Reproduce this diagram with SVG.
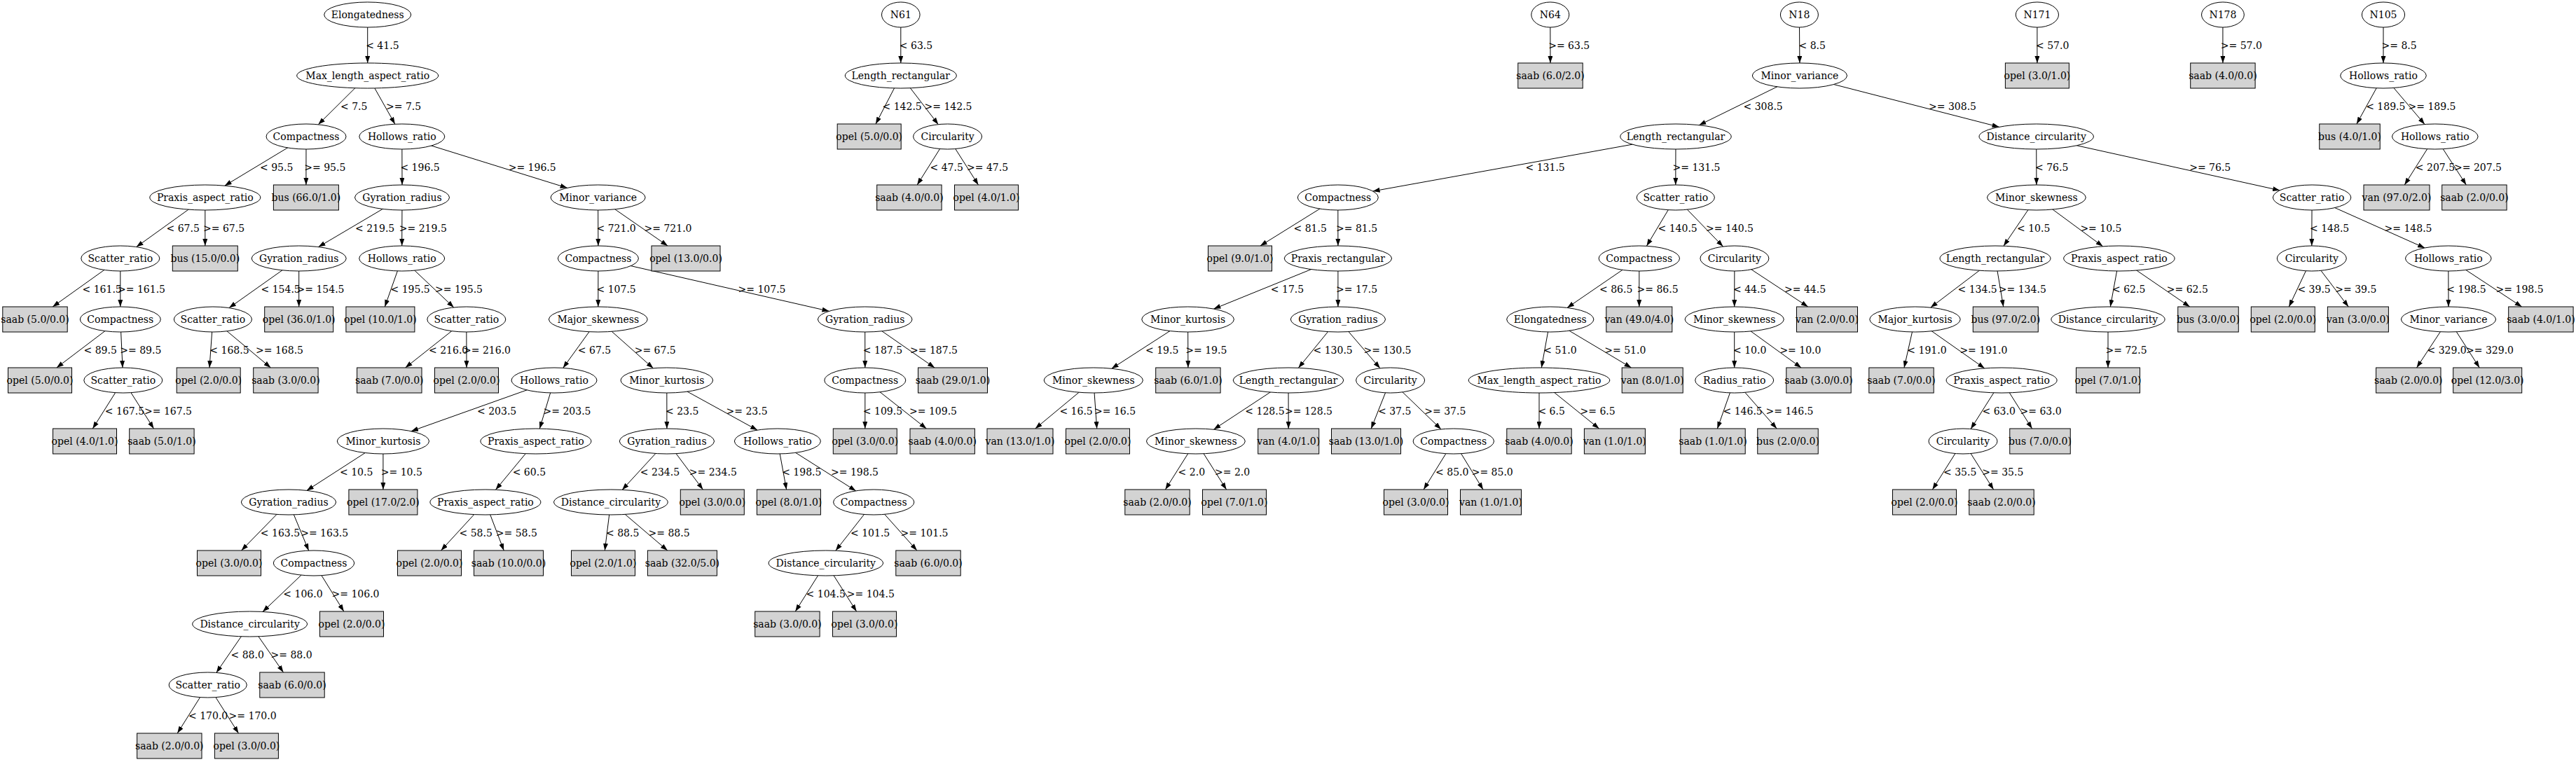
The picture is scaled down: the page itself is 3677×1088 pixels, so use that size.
<svg xmlns="http://www.w3.org/2000/svg" width="3677" height="1088" viewBox="0 0 3677 1088">
<style>
text{font-family:"DejaVu Serif","Liberation Serif",serif;font-size:14px;fill:#000}
.n ellipse{fill:#fff;stroke:#000;stroke-width:1}
.l rect{fill:#d3d3d3;stroke:#000;stroke-width:1}
.n text,.l text{text-anchor:middle}
#lines line{stroke:#000;stroke-width:1;fill:none;marker-end:url(#ah)}
#labels text{text-anchor:start}
</style>
<defs>
<marker id="ah" viewBox="0 0 10 7" refX="10" refY="3.5" markerWidth="10" markerHeight="7" markerUnits="userSpaceOnUse" orient="auto"><path d="M0,0L10,3.5L0,7z" fill="#000"/></marker>
</defs>
<rect width="3677" height="1088" fill="#fff"/>
<g id="connectors">
<g id="lines">
<line x1="524.7" y1="21" x2="524.7" y2="90"/>
<line x1="524.7" y1="108" x2="454.3" y2="177.8"/>
<line x1="524.7" y1="108" x2="563.8" y2="177.2"/>
<line x1="437" y1="195" x2="320.7" y2="265.2"/>
<line x1="437" y1="195" x2="436.9" y2="264"/>
<line x1="573.8" y1="195" x2="574" y2="264"/>
<line x1="573.8" y1="195" x2="809.7" y2="268.3"/>
<line x1="292.8" y1="282" x2="194.7" y2="352.6"/>
<line x1="292.8" y1="282" x2="292.8" y2="351"/>
<line x1="574" y1="282" x2="454.5" y2="352.6"/>
<line x1="574" y1="282" x2="573.7" y2="351"/>
<line x1="853.6" y1="282" x2="853.9" y2="351"/>
<line x1="853.6" y1="282" x2="953.1" y2="351"/>
<line x1="171.8" y1="369" x2="75.2" y2="438"/>
<line x1="171.8" y1="369" x2="171.8" y2="438"/>
<line x1="426.7" y1="369" x2="327" y2="439.6"/>
<line x1="426.7" y1="369" x2="426.7" y2="438"/>
<line x1="573.7" y1="369" x2="549.3" y2="438"/>
<line x1="573.7" y1="369" x2="647.8" y2="439"/>
<line x1="853.9" y1="369" x2="853.8" y2="438"/>
<line x1="853.9" y1="369" x2="1183.5" y2="444.3"/>
<line x1="171.8" y1="456" x2="80.8" y2="525"/>
<line x1="171.8" y1="456" x2="175" y2="525"/>
<line x1="303.9" y1="456" x2="299" y2="525"/>
<line x1="303.9" y1="456" x2="386.4" y2="525"/>
<line x1="665.8" y1="456" x2="578.6" y2="525"/>
<line x1="665.8" y1="456" x2="666" y2="525"/>
<line x1="853.8" y1="456" x2="803.7" y2="525.4"/>
<line x1="853.8" y1="456" x2="932.4" y2="525.8"/>
<line x1="1234.7" y1="456" x2="1234.8" y2="525"/>
<line x1="1234.7" y1="456" x2="1334.1" y2="525"/>
<line x1="175.8" y1="543" x2="132.3" y2="612"/>
<line x1="175.8" y1="543" x2="219.5" y2="612"/>
<line x1="791" y1="543" x2="586.9" y2="615.7"/>
<line x1="791" y1="543" x2="770.3" y2="612"/>
<line x1="951.8" y1="543" x2="951.9" y2="612"/>
<line x1="951.8" y1="543" x2="1081" y2="614.1"/>
<line x1="1234.8" y1="543" x2="1234.8" y2="612"/>
<line x1="1234.8" y1="543" x2="1322.4" y2="612"/>
<line x1="546.9" y1="630" x2="437.8" y2="700.4"/>
<line x1="546.9" y1="630" x2="546.9" y2="699"/>
<line x1="764.9" y1="630" x2="707.5" y2="699.3"/>
<line x1="951.9" y1="630" x2="888.1" y2="699.4"/>
<line x1="951.9" y1="630" x2="1003.4" y2="699"/>
<line x1="1109.9" y1="630" x2="1122.6" y2="699"/>
<line x1="1109.9" y1="630" x2="1221.7" y2="700.9"/>
<line x1="412" y1="717" x2="344.6" y2="786"/>
<line x1="412" y1="717" x2="440.6" y2="786.1"/>
<line x1="692.9" y1="717" x2="629.5" y2="786"/>
<line x1="692.9" y1="717" x2="719.2" y2="786"/>
<line x1="871.9" y1="717" x2="863.3" y2="786"/>
<line x1="871.9" y1="717" x2="952.8" y2="786"/>
<line x1="1247.2" y1="717" x2="1192.8" y2="786.3"/>
<line x1="1247.2" y1="717" x2="1308.9" y2="786"/>
<line x1="448" y1="804" x2="375" y2="873.5"/>
<line x1="448" y1="804" x2="490.8" y2="873"/>
<line x1="1178.8" y1="804" x2="1135.3" y2="873"/>
<line x1="1178.8" y1="804" x2="1222.6" y2="873"/>
<line x1="356.6" y1="891" x2="308.8" y2="960.4"/>
<line x1="356.6" y1="891" x2="404.5" y2="960"/>
<line x1="296.7" y1="978" x2="253.2" y2="1047"/>
<line x1="296.7" y1="978" x2="340.5" y2="1047"/>
<line x1="1285.8" y1="21" x2="1285.8" y2="90"/>
<line x1="1285.8" y1="108" x2="1250" y2="177"/>
<line x1="1285.8" y1="108" x2="1339.3" y2="177.7"/>
<line x1="1352.6" y1="195" x2="1309.2" y2="264"/>
<line x1="1352.6" y1="195" x2="1396.5" y2="264"/>
<line x1="2212.8" y1="21" x2="2213" y2="90"/>
<line x1="2568.4" y1="21" x2="2568.9" y2="90"/>
<line x1="2568.9" y1="108" x2="2425.2" y2="178.7"/>
<line x1="2568.9" y1="108" x2="2853.6" y2="181.3"/>
<line x1="2392" y1="195" x2="1959.6" y2="273"/>
<line x1="2392" y1="195" x2="2391.8" y2="264"/>
<line x1="2906.7" y1="195" x2="2906.9" y2="264"/>
<line x1="2906.7" y1="195" x2="3254.1" y2="271.8"/>
<line x1="1909.8" y1="282" x2="1798.9" y2="351"/>
<line x1="1909.8" y1="282" x2="1909.9" y2="351"/>
<line x1="2391.8" y1="282" x2="2350.4" y2="351.3"/>
<line x1="2391.8" y1="282" x2="2459.5" y2="352"/>
<line x1="2906.9" y1="282" x2="2860" y2="351.2"/>
<line x1="2906.9" y1="282" x2="3001.6" y2="351.8"/>
<line x1="3300.1" y1="282" x2="3299.8" y2="351"/>
<line x1="3300.1" y1="282" x2="3461.1" y2="354"/>
<line x1="1909.9" y1="369" x2="1732.4" y2="441.1"/>
<line x1="1909.9" y1="369" x2="1909.9" y2="438"/>
<line x1="2339.8" y1="369" x2="2237" y2="439.4"/>
<line x1="2339.8" y1="369" x2="2339.8" y2="438"/>
<line x1="2475.9" y1="369" x2="2475.7" y2="438"/>
<line x1="2475.9" y1="369" x2="2580.7" y2="438"/>
<line x1="2848" y1="369" x2="2755.8" y2="439.1"/>
<line x1="2848" y1="369" x2="2859.7" y2="438"/>
<line x1="3024.9" y1="369" x2="3012.3" y2="438"/>
<line x1="3024.9" y1="369" x2="3125.7" y2="438"/>
<line x1="3299.8" y1="369" x2="3267.3" y2="438"/>
<line x1="3299.8" y1="369" x2="3352.2" y2="438"/>
<line x1="3494.8" y1="369" x2="3495" y2="438"/>
<line x1="3494.8" y1="369" x2="3599.6" y2="438"/>
<line x1="1695.6" y1="456" x2="1586.7" y2="526.3"/>
<line x1="1695.6" y1="456" x2="1695.9" y2="525"/>
<line x1="1909.9" y1="456" x2="1853.4" y2="525.3"/>
<line x1="1909.9" y1="456" x2="1969.9" y2="525.8"/>
<line x1="2212.8" y1="456" x2="2200.3" y2="525"/>
<line x1="2212.8" y1="456" x2="2328.5" y2="525"/>
<line x1="2475.7" y1="456" x2="2475.7" y2="525"/>
<line x1="2475.7" y1="456" x2="2571.1" y2="525"/>
<line x1="2733.5" y1="456" x2="2718" y2="525"/>
<line x1="2733.5" y1="456" x2="2832.8" y2="525.9"/>
<line x1="3009" y1="456" x2="3009" y2="525"/>
<line x1="3495" y1="456" x2="3449.6" y2="525"/>
<line x1="3495" y1="456" x2="3539.2" y2="525"/>
<line x1="1560.8" y1="543" x2="1477.7" y2="612"/>
<line x1="1560.8" y1="543" x2="1565.7" y2="612"/>
<line x1="1839" y1="543" x2="1732.4" y2="613.2"/>
<line x1="1839" y1="543" x2="1839.2" y2="612"/>
<line x1="1984.6" y1="543" x2="1957.2" y2="612"/>
<line x1="1984.6" y1="543" x2="2057" y2="612.9"/>
<line x1="2197" y1="543" x2="2197" y2="612"/>
<line x1="2197" y1="543" x2="2282.6" y2="612"/>
<line x1="2475.7" y1="543" x2="2451.4" y2="612"/>
<line x1="2475.7" y1="543" x2="2536.2" y2="612"/>
<line x1="2857.1" y1="543" x2="2813.1" y2="612.5"/>
<line x1="2857.1" y1="543" x2="2900.6" y2="612"/>
<line x1="1706.9" y1="630" x2="1663.4" y2="699"/>
<line x1="1706.9" y1="630" x2="1750.6" y2="699"/>
<line x1="2074.8" y1="630" x2="2032.1" y2="699"/>
<line x1="2074.8" y1="630" x2="2117" y2="699"/>
<line x1="2802" y1="630" x2="2758.4" y2="699"/>
<line x1="2802" y1="630" x2="2845.6" y2="699"/>
<line x1="2907.9" y1="21" x2="2907.9" y2="90"/>
<line x1="3172.9" y1="21" x2="3172.9" y2="90"/>
<line x1="3402" y1="21" x2="3402" y2="90"/>
<line x1="3402" y1="108" x2="3363.9" y2="177"/>
<line x1="3402" y1="108" x2="3461" y2="177.5"/>
<line x1="3475.8" y1="195" x2="3432.3" y2="264"/>
<line x1="3475.8" y1="195" x2="3520.3" y2="264"/>
</g>
<g id="labels">
<text x="522.2" y="69.5">&lt; 41.5</text>
<text x="486" y="156.5">&lt; 7.5</text>
<text x="551" y="156.5">&gt;= 7.5</text>
<text x="371" y="243.5">&lt; 95.5</text>
<text x="434.3" y="243.5">&gt;= 95.5</text>
<text x="571.4" y="243.5">&lt; 196.5</text>
<text x="725.7" y="243.5">&gt;= 196.5</text>
<text x="237.5" y="330.5">&lt; 67.5</text>
<text x="290" y="330.5">&gt;= 67.5</text>
<text x="507" y="330.5">&lt; 219.5</text>
<text x="569.8" y="330.5">&gt;= 219.5</text>
<text x="851.5" y="330.5">&lt; 721.0</text>
<text x="919.5" y="330.5">&gt;= 721.0</text>
<text x="117.5" y="417.5">&lt; 161.5</text>
<text x="168" y="417.5">&gt;= 161.5</text>
<text x="372.5" y="417.5">&lt; 154.5</text>
<text x="423.5" y="417.5">&gt;= 154.5</text>
<text x="557.5" y="417.5">&lt; 195.5</text>
<text x="621" y="417.5">&gt;= 195.5</text>
<text x="851.5" y="417.5">&lt; 107.5</text>
<text x="1053.5" y="417.5">&gt;= 107.5</text>
<text x="119.5" y="504.5">&lt; 89.5</text>
<text x="171.3" y="504.5">&gt;= 89.5</text>
<text x="299.3" y="504.5">&lt; 168.5</text>
<text x="365" y="504.5">&gt;= 168.5</text>
<text x="612" y="504.5">&lt; 216.0</text>
<text x="661" y="504.5">&gt;= 216.0</text>
<text x="824.8" y="504.5">&lt; 67.5</text>
<text x="905.7" y="504.5">&gt;= 67.5</text>
<text x="1231.8" y="504.5">&lt; 187.5</text>
<text x="1299" y="504.5">&gt;= 187.5</text>
<text x="149.8" y="591.5">&lt; 167.5</text>
<text x="206" y="591.5">&gt;= 167.5</text>
<text x="681" y="591.5">&lt; 203.5</text>
<text x="775.5" y="591.5">&gt;= 203.5</text>
<text x="950" y="591.5">&lt; 23.5</text>
<text x="1036.5" y="591.5">&gt;= 23.5</text>
<text x="1231.8" y="591.5">&lt; 109.5</text>
<text x="1298" y="591.5">&gt;= 109.5</text>
<text x="485" y="678.5">&lt; 10.5</text>
<text x="543.8" y="678.5">&gt;= 10.5</text>
<text x="731.7" y="678.5">&lt; 60.5</text>
<text x="913.8" y="678.5">&lt; 234.5</text>
<text x="983.8" y="678.5">&gt;= 234.5</text>
<text x="1116.2" y="678.5">&lt; 198.5</text>
<text x="1186" y="678.5">&gt;= 198.5</text>
<text x="371.8" y="765.5">&lt; 163.5</text>
<text x="429.2" y="765.5">&gt;= 163.5</text>
<text x="655.5" y="765.5">&lt; 58.5</text>
<text x="707.8" y="765.5">&gt;= 58.5</text>
<text x="865" y="765.5">&lt; 88.5</text>
<text x="925.5" y="765.5">&gt;= 88.5</text>
<text x="1214" y="765.5">&lt; 101.5</text>
<text x="1285.5" y="765.5">&gt;= 101.5</text>
<text x="404.3" y="852.5">&lt; 106.0</text>
<text x="473.5" y="852.5">&gt;= 106.0</text>
<text x="1150.6" y="852.5">&lt; 104.5</text>
<text x="1208.8" y="852.5">&gt;= 104.5</text>
<text x="329.5" y="939.5">&lt; 88.0</text>
<text x="386.5" y="939.5">&gt;= 88.0</text>
<text x="269" y="1026.5">&lt; 170.0</text>
<text x="326.6" y="1026.5">&gt;= 170.0</text>
<text x="1283.8" y="69.5">&lt; 63.5</text>
<text x="1259.5" y="156.5">&lt; 142.5</text>
<text x="1319.5" y="156.5">&gt;= 142.5</text>
<text x="1327.5" y="243.5">&lt; 47.5</text>
<text x="1380" y="243.5">&gt;= 47.5</text>
<text x="2210.2" y="69.5">&gt;= 63.5</text>
<text x="2567.5" y="69.5">&lt; 8.5</text>
<text x="2488.5" y="156.5">&lt; 308.5</text>
<text x="2753" y="156.5">&gt;= 308.5</text>
<text x="2177.5" y="243.5">&lt; 131.5</text>
<text x="2387.5" y="243.5">&gt;= 131.5</text>
<text x="2905" y="243.5">&lt; 76.5</text>
<text x="3125.2" y="243.5">&gt;= 76.5</text>
<text x="1846.5" y="330.5">&lt; 81.5</text>
<text x="1907" y="330.5">&gt;= 81.5</text>
<text x="2366.5" y="330.5">&lt; 140.5</text>
<text x="2435" y="330.5">&gt;= 140.5</text>
<text x="2879" y="330.5">&lt; 10.5</text>
<text x="2969.4" y="330.5">&gt;= 10.5</text>
<text x="3297" y="330.5">&lt; 148.5</text>
<text x="3403.5" y="330.5">&gt;= 148.5</text>
<text x="1813.8" y="417.5">&lt; 17.5</text>
<text x="1907" y="417.5">&gt;= 17.5</text>
<text x="2283" y="417.5">&lt; 86.5</text>
<text x="2336.5" y="417.5">&gt;= 86.5</text>
<text x="2474" y="417.5">&lt; 44.5</text>
<text x="2547" y="417.5">&gt;= 44.5</text>
<text x="2794.5" y="417.5">&lt; 134.5</text>
<text x="2852.8" y="417.5">&gt;= 134.5</text>
<text x="3015" y="417.5">&lt; 62.5</text>
<text x="3092.8" y="417.5">&gt;= 62.5</text>
<text x="3279.4" y="417.5">&lt; 39.5</text>
<text x="3333.3" y="417.5">&gt;= 39.5</text>
<text x="3492.3" y="417.5">&lt; 198.5</text>
<text x="3562.6" y="417.5">&gt;= 198.5</text>
<text x="1635" y="504.5">&lt; 19.5</text>
<text x="1692.3" y="504.5">&gt;= 19.5</text>
<text x="1874.5" y="504.5">&lt; 130.5</text>
<text x="1946.5" y="504.5">&gt;= 130.5</text>
<text x="2203.3" y="504.5">&lt; 51.0</text>
<text x="2290.3" y="504.5">&gt;= 51.0</text>
<text x="2474" y="504.5">&lt; 10.0</text>
<text x="2540.4" y="504.5">&gt;= 10.0</text>
<text x="2722.3" y="504.5">&lt; 191.0</text>
<text x="2797.4" y="504.5">&gt;= 191.0</text>
<text x="3005.5" y="504.5">&gt;= 72.5</text>
<text x="3464.5" y="504.5">&lt; 329.0</text>
<text x="3520" y="504.5">&gt;= 329.0</text>
<text x="1512.4" y="591.5">&lt; 16.5</text>
<text x="1562" y="591.5">&gt;= 16.5</text>
<text x="1777.3" y="591.5">&lt; 128.5</text>
<text x="1834" y="591.5">&gt;= 128.5</text>
<text x="1967" y="591.5">&lt; 37.5</text>
<text x="2033.3" y="591.5">&gt;= 37.5</text>
<text x="2195.4" y="591.5">&lt; 6.5</text>
<text x="2255.5" y="591.5">&gt;= 6.5</text>
<text x="2459.5" y="591.5">&lt; 146.5</text>
<text x="2520.5" y="591.5">&gt;= 146.5</text>
<text x="2829.5" y="591.5">&lt; 63.0</text>
<text x="2883.5" y="591.5">&gt;= 63.0</text>
<text x="1681.6" y="678.5">&lt; 2.0</text>
<text x="1734" y="678.5">&gt;= 2.0</text>
<text x="2049.1" y="678.5">&lt; 85.0</text>
<text x="2100.7" y="678.5">&gt;= 85.0</text>
<text x="2774" y="678.5">&lt; 35.5</text>
<text x="2829.3" y="678.5">&gt;= 35.5</text>
<text x="2906" y="69.5">&lt; 57.0</text>
<text x="3169.8" y="69.5">&gt;= 57.0</text>
<text x="3399.5" y="69.5">&gt;= 8.5</text>
<text x="3377.2" y="156.5">&lt; 189.5</text>
<text x="3437.5" y="156.5">&gt;= 189.5</text>
<text x="3447.8" y="243.5">&lt; 207.5</text>
<text x="3503" y="243.5">&gt;= 207.5</text>
</g>
</g>
<g id="nodes">
<g id="n1" class="n"><ellipse cx="524.7" cy="21" rx="62" ry="18"/><text x="524.7" y="26">Elongatedness</text></g>
<g id="n2" class="n"><ellipse cx="524.7" cy="108" rx="101" ry="18"/><text x="524.7" y="113">Max_length_aspect_ratio</text></g>
<g id="n3" class="n"><ellipse cx="437" cy="195" rx="57" ry="18"/><text x="437" y="200">Compactness</text></g>
<g id="n4" class="n"><ellipse cx="573.8" cy="195" rx="61" ry="18"/><text x="573.8" y="200">Hollows_ratio</text></g>
<g id="n5" class="n"><ellipse cx="292.8" cy="282" rx="79" ry="18"/><text x="292.8" y="287">Praxis_aspect_ratio</text></g>
<g id="n6" class="l"><rect x="390.4" y="264" width="93" height="36"/><text x="436.9" y="287">bus (66.0/1.0)</text></g>
<g id="n7" class="n"><ellipse cx="574" cy="282" rx="67.5" ry="18"/><text x="574" y="287">Gyration_radius</text></g>
<g id="n8" class="n"><ellipse cx="853.6" cy="282" rx="67.5" ry="18"/><text x="853.6" y="287">Minor_variance</text></g>
<g id="n9" class="n"><ellipse cx="171.8" cy="369" rx="56" ry="18"/><text x="171.8" y="374">Scatter_ratio</text></g>
<g id="n10" class="l"><rect x="246.3" y="351" width="93" height="36"/><text x="292.8" y="374">bus (15.0/0.0)</text></g>
<g id="n11" class="n"><ellipse cx="426.7" cy="369" rx="67.5" ry="18"/><text x="426.7" y="374">Gyration_radius</text></g>
<g id="n12" class="n"><ellipse cx="573.7" cy="369" rx="61" ry="18"/><text x="573.7" y="374">Hollows_ratio</text></g>
<g id="n13" class="n"><ellipse cx="853.9" cy="369" rx="57.5" ry="18"/><text x="853.9" y="374">Compactness</text></g>
<g id="n14" class="l"><rect x="930" y="351" width="98" height="36"/><text x="979" y="374">opel (13.0/0.0)</text></g>
<g id="n15" class="l"><rect x="3.8" y="438" width="92.4" height="36"/><text x="50" y="461">saab (5.0/0.0)</text></g>
<g id="n16" class="n"><ellipse cx="171.8" cy="456" rx="57.5" ry="18"/><text x="171.8" y="461">Compactness</text></g>
<g id="n17" class="n"><ellipse cx="303.9" cy="456" rx="55.6" ry="18"/><text x="303.9" y="461">Scatter_ratio</text></g>
<g id="n18" class="l"><rect x="377.7" y="438" width="98" height="36"/><text x="426.7" y="461">opel (36.0/1.0)</text></g>
<g id="n19" class="l"><rect x="493.9" y="438" width="98" height="36"/><text x="542.9" y="461">opel (10.0/1.0)</text></g>
<g id="n20" class="n"><ellipse cx="665.8" cy="456" rx="56" ry="18"/><text x="665.8" y="461">Scatter_ratio</text></g>
<g id="n21" class="n"><ellipse cx="853.8" cy="456" rx="70.4" ry="18"/><text x="853.8" y="461">Major_skewness</text></g>
<g id="n22" class="n"><ellipse cx="1234.7" cy="456" rx="67.3" ry="18"/><text x="1234.7" y="461">Gyration_radius</text></g>
<g id="n23" class="l"><rect x="11.5" y="525" width="91" height="36"/><text x="57" y="548">opel (5.0/0.0)</text></g>
<g id="n24" class="n"><ellipse cx="175.8" cy="543" rx="56" ry="18"/><text x="175.8" y="548">Scatter_ratio</text></g>
<g id="n25" class="l"><rect x="252.2" y="525" width="91" height="36"/><text x="297.7" y="548">opel (2.0/0.0)</text></g>
<g id="n26" class="l"><rect x="361.7" y="525" width="92.4" height="36"/><text x="407.9" y="548">saab (3.0/0.0)</text></g>
<g id="n27" class="l"><rect x="509.6" y="525" width="92.4" height="36"/><text x="555.8" y="548">saab (7.0/0.0)</text></g>
<g id="n28" class="l"><rect x="620.5" y="525" width="91" height="36"/><text x="666" y="548">opel (2.0/0.0)</text></g>
<g id="n29" class="n"><ellipse cx="791" cy="543" rx="61" ry="18"/><text x="791" y="548">Hollows_ratio</text></g>
<g id="n30" class="n"><ellipse cx="951.8" cy="543" rx="65.8" ry="18"/><text x="951.8" y="548">Minor_kurtosis</text></g>
<g id="n31" class="n"><ellipse cx="1234.8" cy="543" rx="58" ry="18"/><text x="1234.8" y="548">Compactness</text></g>
<g id="n32" class="l"><rect x="1310.5" y="525" width="99" height="36"/><text x="1360" y="548">saab (29.0/1.0)</text></g>
<g id="n33" class="l"><rect x="75.5" y="612" width="91" height="36"/><text x="121" y="635">opel (4.0/1.0)</text></g>
<g id="n34" class="l"><rect x="184.7" y="612" width="92.4" height="36"/><text x="230.9" y="635">saab (5.0/1.0)</text></g>
<g id="n35" class="n"><ellipse cx="546.9" cy="630" rx="65.6" ry="18"/><text x="546.9" y="635">Minor_kurtosis</text></g>
<g id="n36" class="n"><ellipse cx="764.9" cy="630" rx="79" ry="18"/><text x="764.9" y="635">Praxis_aspect_ratio</text></g>
<g id="n37" class="n"><ellipse cx="951.9" cy="630" rx="67.6" ry="18"/><text x="951.9" y="635">Gyration_radius</text></g>
<g id="n38" class="n"><ellipse cx="1109.9" cy="630" rx="61.5" ry="18"/><text x="1109.9" y="635">Hollows_ratio</text></g>
<g id="n39" class="l"><rect x="1189.3" y="612" width="91" height="36"/><text x="1234.8" y="635">opel (3.0/0.0)</text></g>
<g id="n40" class="l"><rect x="1299" y="612" width="92.4" height="36"/><text x="1345.2" y="635">saab (4.0/0.0)</text></g>
<g id="n41" class="n"><ellipse cx="412" cy="717" rx="67.6" ry="18"/><text x="412" y="722">Gyration_radius</text></g>
<g id="n42" class="l"><rect x="497.9" y="699" width="98" height="36"/><text x="546.9" y="722">opel (17.0/2.0)</text></g>
<g id="n43" class="n"><ellipse cx="692.9" cy="717" rx="79" ry="18"/><text x="692.9" y="722">Praxis_aspect_ratio</text></g>
<g id="n44" class="n"><ellipse cx="871.9" cy="717" rx="81.3" ry="18"/><text x="871.9" y="722">Distance_circularity</text></g>
<g id="n45" class="l"><rect x="971.3" y="699" width="91" height="36"/><text x="1016.8" y="722">opel (3.0/0.0)</text></g>
<g id="n46" class="l"><rect x="1080.4" y="699" width="91" height="36"/><text x="1125.9" y="722">opel (8.0/1.0)</text></g>
<g id="n47" class="n"><ellipse cx="1247.2" cy="717" rx="57.6" ry="18"/><text x="1247.2" y="722">Compactness</text></g>
<g id="n48" class="l"><rect x="281.5" y="786" width="91" height="36"/><text x="327" y="809">opel (3.0/0.0)</text></g>
<g id="n49" class="n"><ellipse cx="448" cy="804" rx="57.7" ry="18"/><text x="448" y="809">Compactness</text></g>
<g id="n50" class="l"><rect x="567.5" y="786" width="91" height="36"/><text x="613" y="809">opel (2.0/0.0)</text></g>
<g id="n51" class="l"><rect x="676.5" y="786" width="99" height="36"/><text x="726" y="809">saab (10.0/0.0)</text></g>
<g id="n52" class="l"><rect x="815.5" y="786" width="91" height="36"/><text x="861" y="809">opel (2.0/1.0)</text></g>
<g id="n53" class="l"><rect x="924.4" y="786" width="99" height="36"/><text x="973.9" y="809">saab (32.0/5.0)</text></g>
<g id="n54" class="n"><ellipse cx="1178.8" cy="804" rx="81.7" ry="18"/><text x="1178.8" y="809">Distance_circularity</text></g>
<g id="n55" class="l"><rect x="1278.8" y="786" width="92.4" height="36"/><text x="1325" y="809">saab (6.0/0.0)</text></g>
<g id="n56" class="n"><ellipse cx="356.6" cy="891" rx="81.9" ry="18"/><text x="356.6" y="896">Distance_circularity</text></g>
<g id="n57" class="l"><rect x="456.5" y="873" width="91" height="36"/><text x="502" y="896">opel (2.0/0.0)</text></g>
<g id="n58" class="l"><rect x="1077.7" y="873" width="92.4" height="36"/><text x="1123.9" y="896">saab (3.0/0.0)</text></g>
<g id="n59" class="l"><rect x="1188.5" y="873" width="91" height="36"/><text x="1234" y="896">opel (3.0/0.0)</text></g>
<g id="n60" class="n"><ellipse cx="296.7" cy="978" rx="55.6" ry="18"/><text x="296.7" y="983">Scatter_ratio</text></g>
<g id="n61" class="l"><rect x="370.8" y="960" width="92.4" height="36"/><text x="417" y="983">saab (6.0/0.0)</text></g>
<g id="n62" class="l"><rect x="195.6" y="1047" width="92.4" height="36"/><text x="241.8" y="1070">saab (2.0/0.0)</text></g>
<g id="n63" class="l"><rect x="306.4" y="1047" width="91" height="36"/><text x="351.9" y="1070">opel (3.0/0.0)</text></g>
<g id="m1" class="n"><ellipse cx="1285.8" cy="21" rx="27.3" ry="18"/><text x="1285.8" y="26">N61</text></g>
<g id="m2" class="n"><ellipse cx="1285.8" cy="108" rx="79.5" ry="18"/><text x="1285.8" y="113">Length_rectangular</text></g>
<g id="m3" class="l"><rect x="1195.2" y="177" width="91" height="36"/><text x="1240.7" y="200">opel (5.0/0.0)</text></g>
<g id="m4" class="n"><ellipse cx="1352.6" cy="195" rx="49" ry="18"/><text x="1352.6" y="200">Circularity</text></g>
<g id="m5" class="l"><rect x="1251.7" y="264" width="92.4" height="36"/><text x="1297.9" y="287">saab (4.0/0.0)</text></g>
<g id="m6" class="l"><rect x="1362.5" y="264" width="91" height="36"/><text x="1408" y="287">opel (4.0/1.0)</text></g>
<g id="p1" class="n"><ellipse cx="2212.8" cy="21" rx="27" ry="18"/><text x="2212.8" y="26">N64</text></g>
<g id="p2" class="l"><rect x="2166.8" y="90" width="92.4" height="36"/><text x="2213" y="113">saab (6.0/2.0)</text></g>
<g id="q1" class="n"><ellipse cx="2568.4" cy="21" rx="27" ry="18"/><text x="2568.4" y="26">N18</text></g>
<g id="q2" class="n"><ellipse cx="2568.9" cy="108" rx="67.6" ry="18"/><text x="2568.9" y="113">Minor_variance</text></g>
<g id="q3" class="n"><ellipse cx="2392" cy="195" rx="79.2" ry="18"/><text x="2392" y="200">Length_rectangular</text></g>
<g id="q4" class="n"><ellipse cx="2906.7" cy="195" rx="81.7" ry="18"/><text x="2906.7" y="200">Distance_circularity</text></g>
<g id="q5" class="n"><ellipse cx="1909.8" cy="282" rx="57.5" ry="18"/><text x="1909.8" y="287">Compactness</text></g>
<g id="q6" class="n"><ellipse cx="2391.8" cy="282" rx="55.6" ry="18"/><text x="2391.8" y="287">Scatter_ratio</text></g>
<g id="q7" class="n"><ellipse cx="2906.9" cy="282" rx="70.4" ry="18"/><text x="2906.9" y="287">Minor_skewness</text></g>
<g id="q8" class="n"><ellipse cx="3300.1" cy="282" rx="55.7" ry="18"/><text x="3300.1" y="287">Scatter_ratio</text></g>
<g id="q9" class="l"><rect x="1724.5" y="351" width="91" height="36"/><text x="1770" y="374">opel (9.0/1.0)</text></g>
<g id="q10" class="n"><ellipse cx="1909.9" cy="369" rx="76.7" ry="18"/><text x="1909.9" y="374">Praxis_rectangular</text></g>
<g id="q11" class="n"><ellipse cx="2339.8" cy="369" rx="57.7" ry="18"/><text x="2339.8" y="374">Compactness</text></g>
<g id="q12" class="n"><ellipse cx="2475.9" cy="369" rx="49" ry="18"/><text x="2475.9" y="374">Circularity</text></g>
<g id="q13" class="n"><ellipse cx="2848" cy="369" rx="79" ry="18"/><text x="2848" y="374">Length_rectangular</text></g>
<g id="q14" class="n"><ellipse cx="3024.9" cy="369" rx="79.2" ry="18"/><text x="3024.9" y="374">Praxis_aspect_ratio</text></g>
<g id="q15" class="n"><ellipse cx="3299.8" cy="369" rx="49.5" ry="18"/><text x="3299.8" y="374">Circularity</text></g>
<g id="q16" class="n"><ellipse cx="3494.8" cy="369" rx="61.3" ry="18"/><text x="3494.8" y="374">Hollows_ratio</text></g>
<g id="q17" class="n"><ellipse cx="1695.6" cy="456" rx="65.8" ry="18"/><text x="1695.6" y="461">Minor_kurtosis</text></g>
<g id="q18" class="n"><ellipse cx="1909.9" cy="456" rx="67.6" ry="18"/><text x="1909.9" y="461">Gyration_radius</text></g>
<g id="q19" class="n"><ellipse cx="2212.8" cy="456" rx="62.1" ry="18"/><text x="2212.8" y="461">Elongatedness</text></g>
<g id="q20" class="l"><rect x="2292.8" y="438" width="94" height="36"/><text x="2339.8" y="461">van (49.0/4.0)</text></g>
<g id="q21" class="n"><ellipse cx="2475.7" cy="456" rx="70.6" ry="18"/><text x="2475.7" y="461">Minor_skewness</text></g>
<g id="q22" class="l"><rect x="2564.5" y="438" width="87" height="36"/><text x="2608" y="461">van (2.0/0.0)</text></g>
<g id="q23" class="n"><ellipse cx="2733.5" cy="456" rx="64.7" ry="18"/><text x="2733.5" y="461">Major_kurtosis</text></g>
<g id="q24" class="l"><rect x="2816.3" y="438" width="93" height="36"/><text x="2862.8" y="461">bus (97.0/2.0)</text></g>
<g id="q25" class="n"><ellipse cx="3009" cy="456" rx="81.1" ry="18"/><text x="3009" y="461">Distance_circularity</text></g>
<g id="q26" class="l"><rect x="3108.75" y="438" width="86.5" height="36"/><text x="3152" y="461">bus (3.0/0.0)</text></g>
<g id="q27" class="l"><rect x="3213.3" y="438" width="91" height="36"/><text x="3258.8" y="461">opel (2.0/0.0)</text></g>
<g id="q28" class="l"><rect x="3322.4" y="438" width="87" height="36"/><text x="3365.9" y="461">van (3.0/0.0)</text></g>
<g id="q29" class="n"><ellipse cx="3495" cy="456" rx="67.6" ry="18"/><text x="3495" y="461">Minor_variance</text></g>
<g id="q30" class="l"><rect x="3580.7" y="438" width="92.4" height="36"/><text x="3626.9" y="461">saab (4.0/1.0)</text></g>
<g id="q31" class="n"><ellipse cx="1560.8" cy="543" rx="70.6" ry="18"/><text x="1560.8" y="548">Minor_skewness</text></g>
<g id="q32" class="l"><rect x="1649.7" y="525" width="92.4" height="36"/><text x="1695.9" y="548">saab (6.0/1.0)</text></g>
<g id="q33" class="n"><ellipse cx="1839" cy="543" rx="78.8" ry="18"/><text x="1839" y="548">Length_rectangular</text></g>
<g id="q34" class="n"><ellipse cx="1984.6" cy="543" rx="49" ry="18"/><text x="1984.6" y="548">Circularity</text></g>
<g id="q35" class="n"><ellipse cx="2197" cy="543" rx="100.8" ry="18"/><text x="2197" y="548">Max_length_aspect_ratio</text></g>
<g id="q36" class="l"><rect x="2315.2" y="525" width="87" height="36"/><text x="2358.7" y="548">van (8.0/1.0)</text></g>
<g id="q37" class="n"><ellipse cx="2475.7" cy="543" rx="56" ry="18"/><text x="2475.7" y="548">Radius_ratio</text></g>
<g id="q38" class="l"><rect x="2549.8" y="525" width="92.4" height="36"/><text x="2596" y="548">saab (3.0/0.0)</text></g>
<g id="q39" class="l"><rect x="2667.8" y="525" width="92.4" height="36"/><text x="2714" y="548">saab (7.0/0.0)</text></g>
<g id="q40" class="n"><ellipse cx="2857.1" cy="543" rx="79" ry="18"/><text x="2857.1" y="548">Praxis_aspect_ratio</text></g>
<g id="q41" class="l"><rect x="2963.5" y="525" width="91" height="36"/><text x="3009" y="548">opel (7.0/1.0)</text></g>
<g id="q42" class="l"><rect x="3391.6" y="525" width="92.4" height="36"/><text x="3437.8" y="548">saab (2.0/0.0)</text></g>
<g id="q43" class="l"><rect x="3501.7" y="525" width="98" height="36"/><text x="3550.7" y="548">opel (12.0/3.0)</text></g>
<g id="q44" class="l"><rect x="1409" y="612" width="94" height="36"/><text x="1456" y="635">van (13.0/1.0)</text></g>
<g id="q45" class="l"><rect x="1521.5" y="612" width="91" height="36"/><text x="1567" y="635">opel (2.0/0.0)</text></g>
<g id="q46" class="n"><ellipse cx="1706.9" cy="630" rx="70.4" ry="18"/><text x="1706.9" y="635">Minor_skewness</text></g>
<g id="q47" class="l"><rect x="1795.7" y="612" width="87" height="36"/><text x="1839.2" y="635">van (4.0/1.0)</text></g>
<g id="q48" class="l"><rect x="1900.5" y="612" width="99" height="36"/><text x="1950" y="635">saab (13.0/1.0)</text></g>
<g id="q49" class="n"><ellipse cx="2074.8" cy="630" rx="57.7" ry="18"/><text x="2074.8" y="635">Compactness</text></g>
<g id="q50" class="l"><rect x="2150.8" y="612" width="92.4" height="36"/><text x="2197" y="635">saab (4.0/0.0)</text></g>
<g id="q51" class="l"><rect x="2261.4" y="612" width="87" height="36"/><text x="2304.9" y="635">van (1.0/1.0)</text></g>
<g id="q52" class="l"><rect x="2398.8" y="612" width="92.4" height="36"/><text x="2445" y="635">saab (1.0/1.0)</text></g>
<g id="q53" class="l"><rect x="2508.75" y="612" width="86.5" height="36"/><text x="2552" y="635">bus (2.0/0.0)</text></g>
<g id="q54" class="n"><ellipse cx="2802" cy="630" rx="49" ry="18"/><text x="2802" y="635">Circularity</text></g>
<g id="q55" class="l"><rect x="2868.75" y="612" width="86.5" height="36"/><text x="2912" y="635">bus (7.0/0.0)</text></g>
<g id="q56" class="l"><rect x="1605.8" y="699" width="92.4" height="36"/><text x="1652" y="722">saab (2.0/0.0)</text></g>
<g id="q57" class="l"><rect x="1716.5" y="699" width="91" height="36"/><text x="1762" y="722">opel (7.0/1.0)</text></g>
<g id="q58" class="l"><rect x="1975.5" y="699" width="91" height="36"/><text x="2021" y="722">opel (3.0/0.0)</text></g>
<g id="q59" class="l"><rect x="2084.5" y="699" width="87" height="36"/><text x="2128" y="722">van (1.0/1.0)</text></g>
<g id="q60" class="l"><rect x="2701.5" y="699" width="91" height="36"/><text x="2747" y="722">opel (2.0/0.0)</text></g>
<g id="q61" class="l"><rect x="2810.8" y="699" width="92.4" height="36"/><text x="2857" y="722">saab (2.0/0.0)</text></g>
<g id="r1" class="n"><ellipse cx="2907.9" cy="21" rx="30.6" ry="18"/><text x="2907.9" y="26">N171</text></g>
<g id="r2" class="l"><rect x="2862.4" y="90" width="91" height="36"/><text x="2907.9" y="113">opel (3.0/1.0)</text></g>
<g id="s1" class="n"><ellipse cx="3172.9" cy="21" rx="30.4" ry="18"/><text x="3172.9" y="26">N178</text></g>
<g id="s2" class="l"><rect x="3126.7" y="90" width="92.4" height="36"/><text x="3172.9" y="113">saab (4.0/0.0)</text></g>
<g id="t1" class="n"><ellipse cx="3402" cy="21" rx="30.6" ry="18"/><text x="3402" y="26">N105</text></g>
<g id="t2" class="n"><ellipse cx="3402" cy="108" rx="61.3" ry="18"/><text x="3402" y="113">Hollows_ratio</text></g>
<g id="t3" class="l"><rect x="3310.75" y="177" width="86.5" height="36"/><text x="3354" y="200">bus (4.0/1.0)</text></g>
<g id="t4" class="n"><ellipse cx="3475.8" cy="195" rx="61.3" ry="18"/><text x="3475.8" y="200">Hollows_ratio</text></g>
<g id="t5" class="l"><rect x="3374" y="264" width="94" height="36"/><text x="3421" y="287">van (97.0/2.0)</text></g>
<g id="t6" class="l"><rect x="3485.7" y="264" width="92.4" height="36"/><text x="3531.9" y="287">saab (2.0/0.0)</text></g>
</g>
</svg>
